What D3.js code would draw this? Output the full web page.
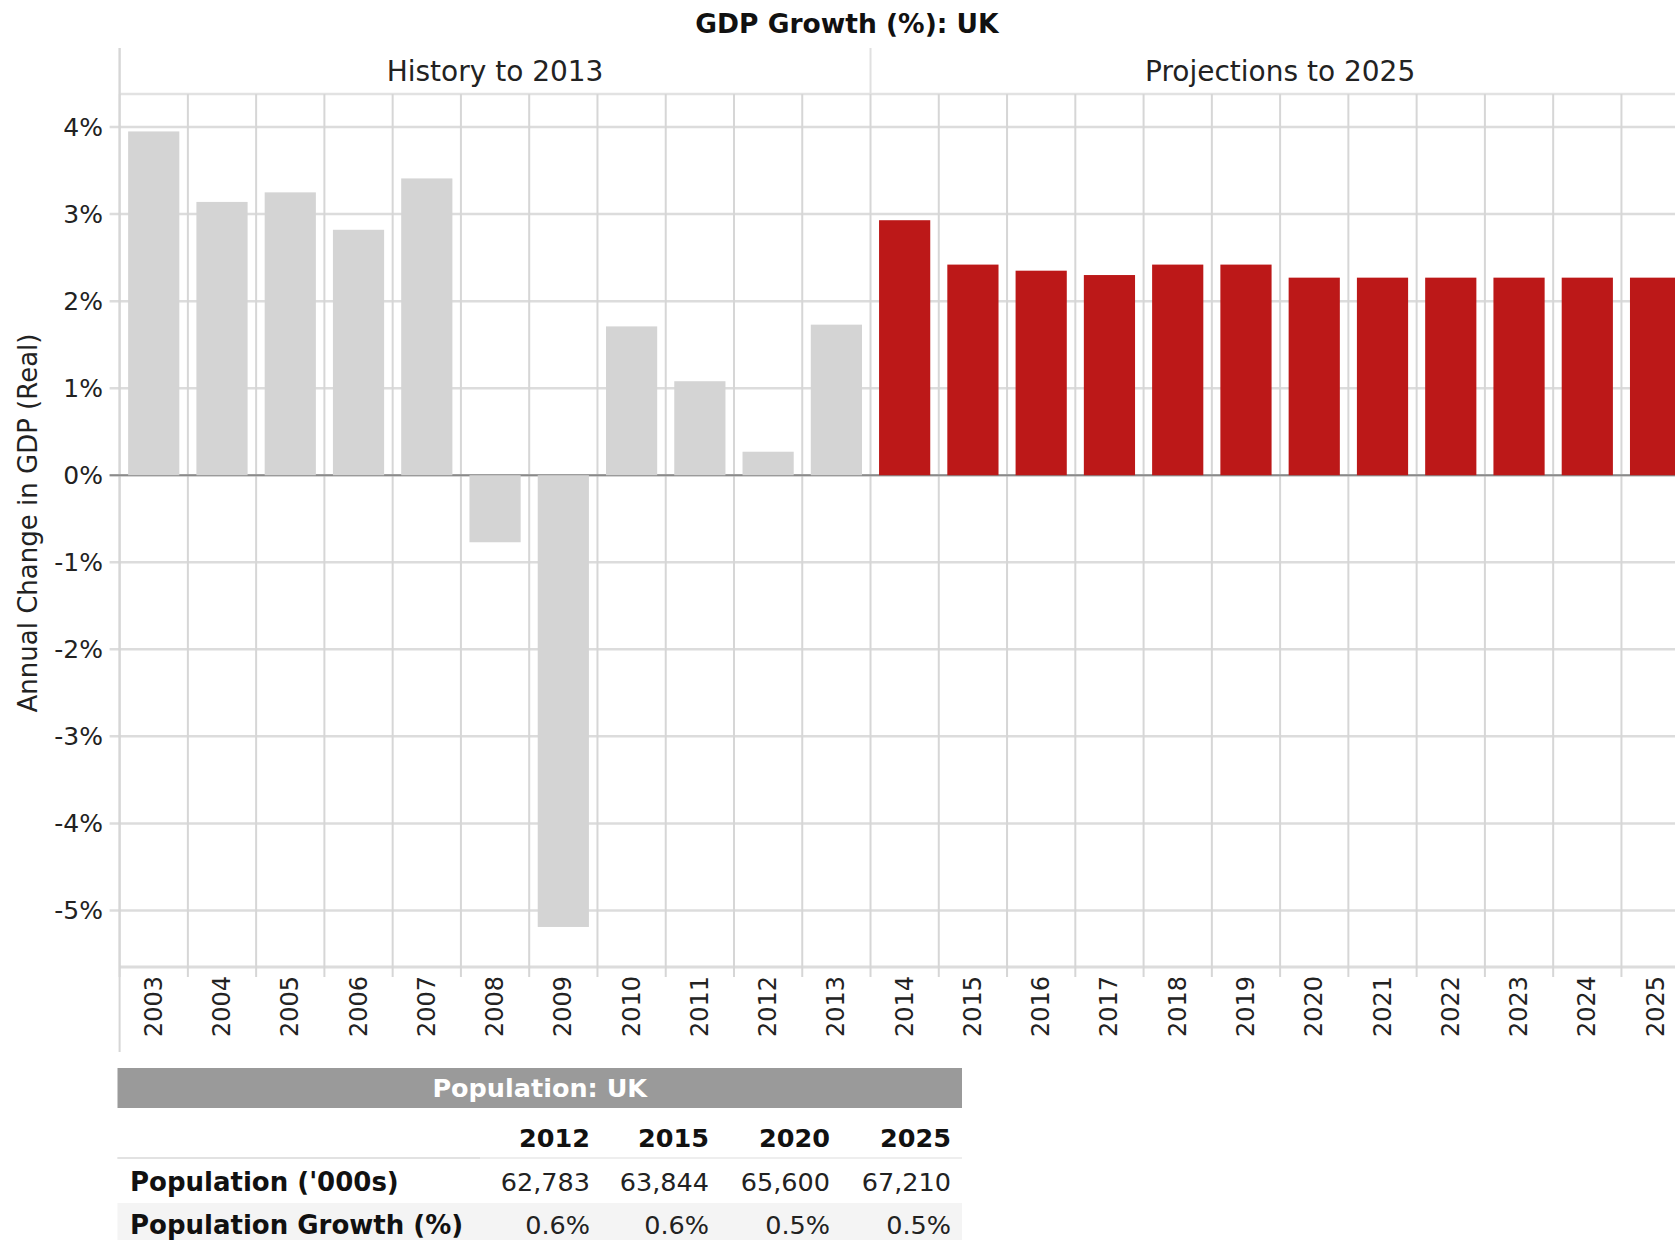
<!DOCTYPE html>
<html>
<head>
<meta charset="utf-8">
<script src="https://cdn.jsdelivr.net/npm/d3@7"></script>
<style>
  html, body { margin: 0; padding: 0; background: #fff; }
  svg { display: block; font-family: "DejaVu Sans", Verdana, sans-serif; }
</style>
</head>
<body>
<svg id="chart" width="1675" height="1240"></svg>
<script>
// Annual real GDP growth, UK (%)
const historyYears = ["2003","2004","2005","2006","2007","2008","2009","2010","2011","2012","2013"];
const historyValues = [3.95, 3.14, 3.25, 2.82, 3.41, -0.77, -5.19, 1.71, 1.08, 0.27, 1.73];
const projectionYears = ["2014","2015","2016","2017","2018","2019","2020","2021","2022","2023","2024","2025"];
const projectionValues = [2.93, 2.42, 2.35, 2.30, 2.42, 2.42, 2.27, 2.27, 2.27, 2.27, 2.27, 2.27];
const yTicks = [-5, -4, -3, -2, -1, 0, 1, 2, 3, 4];

// Population table
const popYears = ["2012", "2015", "2020", "2025"];
const popValues = ["62,783", "63,844", "65,600", "67,210"];
const popGrowth = ["0.6%", "0.6%", "0.5%", "0.5%"];

const svg = d3.select("#chart");
const W = 1675;

const plot = { left: 119.6, right: 1689.7, top: 94, bottom: 967 };

const allYears = historyYears.concat(projectionYears);
const data = historyYears.map((y, i) => ({ year: y, value: historyValues[i], proj: false }))
  .concat(projectionYears.map((y, i) => ({ year: y, value: projectionValues[i], proj: true })));

const x = d3.scaleBand().domain(allYears).range([plot.left, plot.right])
  .paddingInner(0.25).paddingOuter(0.125);
const step = x.step();
const colStart = d => x(d) - step * 0.125;

const y = d3.scaleLinear().domain([-5.65, 4.38]).range([plot.bottom, plot.top]);

const gridColor = "#d6d6d6";

// Horizontal gridlines
svg.append("g").selectAll("line").data(yTicks).join("line")
  .attr("x1", plot.left - 10).attr("x2", W)
  .attr("y1", d => y(d)).attr("y2", d => y(d))
  .attr("stroke", "#dcdcdc").attr("stroke-width", 2.5);

// Frame lines: panel strip bottom and plot bottom
svg.append("line").attr("x1", plot.left).attr("x2", W)
  .attr("y1", plot.top).attr("y2", plot.top)
  .attr("stroke", "#e2e2e2").attr("stroke-width", 2.5);
svg.append("line").attr("x1", plot.left).attr("x2", W)
  .attr("y1", plot.bottom).attr("y2", plot.bottom)
  .attr("stroke", "#dcdcdc").attr("stroke-width", 3);

// Vertical gridlines at column boundaries
const boundaries = allYears.map(colStart).concat([plot.right]);
svg.append("g").selectAll("line").data(boundaries).join("line")
  .attr("x1", d => d).attr("x2", d => d)
  .attr("y1", plot.top).attr("y2", plot.bottom + 10)
  .attr("stroke", gridColor).attr("stroke-width", 2);

// Panel strip dividers
const divider = colStart(projectionYears[0]);
[plot.left, divider, plot.right].forEach(px => {
  svg.append("line").attr("x1", px).attr("x2", px)
    .attr("y1", 48).attr("y2", plot.top)
    .attr("stroke", "#e0e0e0").attr("stroke-width", 2);
});
// Left axis line running down past the year labels
svg.append("line").attr("x1", plot.left).attr("x2", plot.left)
  .attr("y1", 48).attr("y2", 1052)
  .attr("stroke", "#d6d6d6").attr("stroke-width", 2);

// Zero baseline
svg.append("line").attr("x1", plot.left - 10).attr("x2", W)
  .attr("y1", y(0)).attr("y2", y(0))
  .attr("stroke", "#8a8a8a").attr("stroke-width", 2);

// Bars
svg.append("g").selectAll("rect").data(data).join("rect")
  .attr("x", d => x(d.year))
  .attr("width", x.bandwidth())
  .attr("y", d => y(Math.max(0, d.value)))
  .attr("height", d => Math.abs(y(d.value) - y(0)))
  .attr("fill", d => d.proj ? "#bc1818" : "#d4d4d4");

// Y tick labels
svg.append("g").selectAll("text").data(yTicks).join("text")
  .attr("x", 103).attr("y", d => y(d))
  .attr("dy", "0.36em")
  .attr("text-anchor", "end")
  .attr("font-size", 25).attr("fill", "#222")
  .text(d => d + "%");

// Y axis title
svg.append("text")
  .attr("transform", "translate(37,523) rotate(-90)")
  .attr("text-anchor", "middle")
  .attr("font-size", 26).attr("fill", "#222")
  .text("Annual Change in GDP (Real)");

// X labels (rotated)
svg.append("g").selectAll("text").data(allYears).join("text")
  .attr("transform", d => `translate(${x(d) + x.bandwidth() / 2 + 8},976) rotate(-90)`)
  .attr("text-anchor", "end")
  .attr("font-size", 24).attr("fill", "#222")
  .text(d => d);

// Title and panel headers
svg.append("text").attr("x", 847).attr("y", 33)
  .attr("text-anchor", "middle").attr("font-weight", "bold")
  .attr("font-size", 26.5).attr("fill", "#111")
  .text("GDP Growth (%): UK");
svg.append("text").attr("x", (plot.left + divider) / 2).attr("y", 81)
  .attr("text-anchor", "middle").attr("font-size", 28).attr("fill", "#222")
  .text("History to 2013");
svg.append("text").attr("x", (divider + plot.right) / 2).attr("y", 81)
  .attr("text-anchor", "middle").attr("font-size", 28).attr("fill", "#222")
  .text("Projections to 2025");

// Population table
const tbl = svg.append("g");
const tLeft = 117.5, tRight = 962;
const colRight = [590, 709, 830, 951];
tbl.append("rect").attr("x", tLeft).attr("y", 1068).attr("width", tRight - tLeft).attr("height", 40)
  .attr("fill", "#9a9a9a");
tbl.append("text").attr("x", (tLeft + tRight) / 2).attr("y", 1097)
  .attr("text-anchor", "middle").attr("font-weight", "bold").attr("font-size", 25.5)
  .attr("fill", "#fff").text("Population: UK");
tbl.selectAll("text.hdr").data(popYears).join("text").attr("class", "hdr")
  .attr("x", (d, i) => colRight[i]).attr("y", 1147)
  .attr("text-anchor", "end").attr("font-weight", "bold").attr("font-size", 25.5)
  .attr("fill", "#111").text(d => d);
tbl.append("line").attr("x1", tLeft).attr("x2", tRight).attr("y1", 1158).attr("y2", 1158)
  .attr("stroke", "#eeeeee").attr("stroke-width", 2);
tbl.append("line").attr("x1", tLeft).attr("x2", 480).attr("y1", 1158).attr("y2", 1158)
  .attr("stroke", "#e2e2e2").attr("stroke-width", 2);
tbl.append("rect").attr("x", tLeft).attr("y", 1203).attr("width", tRight - tLeft).attr("height", 37)
  .attr("fill", "#f4f4f4");
const rows = [
  { label: "Population ('000s)", vals: popValues, y: 1191 },
  { label: "Population Growth (%)", vals: popGrowth, y: 1234 }
];
rows.forEach(r => {
  tbl.append("text").attr("x", 130).attr("y", r.y)
    .attr("font-weight", "bold").attr("font-size", 26).attr("fill", "#111").text(r.label);
  tbl.selectAll(null).data(r.vals).join("text")
    .attr("x", (d, i) => colRight[i]).attr("y", r.y)
    .attr("text-anchor", "end").attr("font-size", 25.5).attr("fill", "#222")
    .text(d => d);
});
</script>
</body>
</html>
